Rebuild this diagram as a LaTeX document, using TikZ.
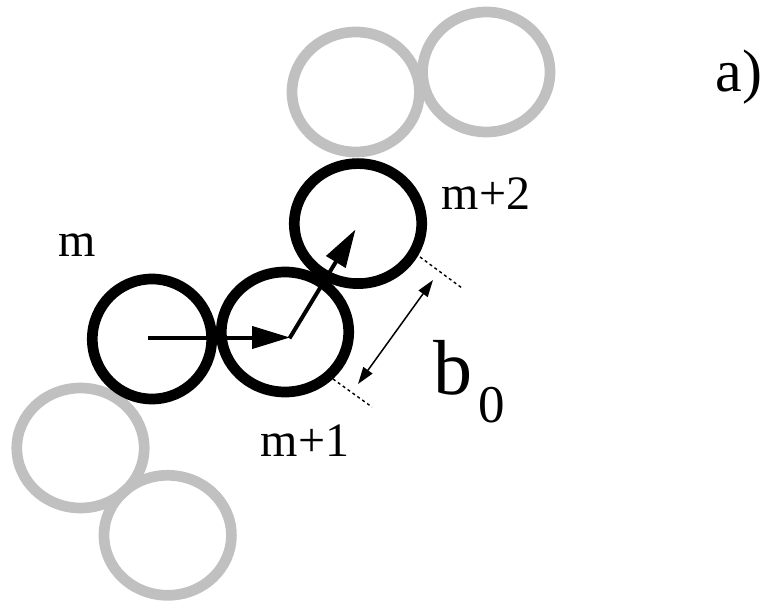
\documentclass[tikz,border=0pt]{standalone}
\usepackage{fontspec}
\setmainfont{Liberation Serif}
\usetikzlibrary{arrows.meta}

\definecolor{ringgray}{RGB}{192,192,192}

\tikzset{
  ring/.style={black, line width=10.7pt},
  ghostring/.style={ringgray, line width=10.7pt},
  bondarrow/.style={-{Triangle[length=38pt, width=22pt]}, line width=4pt},
  gaparrow/.style={{Triangle[length=17pt, width=11pt]}-{Triangle[length=17pt, width=11pt]}, line width=1.5pt},
  guide/.style={line width=1.4pt, dash pattern=on 3pt off 3pt},
  lbl/.style={font=\fontsize{48}{48}\selectfont, inner sep=0pt, anchor=base west}
}

\begin{document}
\begin{tikzpicture}[x=1pt, y=-1pt]
  \useasboundingbox (0,0) rectangle (770,604);
  \def\Rx{63.7}
  \def\Ry{60}

  % --- neighbouring monomers (grey) ---
  \foreach \cx/\cy in {355.7/92, 486.3/72, 80.5/448, 167.7/535.3} {
    \draw[ghostring] (\cx,\cy) ellipse [x radius=\Rx, y radius=\Ry];
  }

  % --- monomers m, m+1, m+2 ---
  \draw[ring] (152,339) ellipse [x radius=59.7, y radius=\Ry];
  \draw[ring] (285,332) ellipse [x radius=\Rx, y radius=\Ry];
  \draw[ring] (358,223.6) ellipse [x radius=\Rx, y radius=\Ry];

  % --- bond vectors ---
  \coordinate (p0) at (148,337.5);
  \coordinate (p1) at (290,337.5);
  \coordinate (p2) at (355.5,229.5);
  \draw[bondarrow] (p0) -- (p1);
  \draw[bondarrow, shorten <=-1pt] (p1) -- (p2);

  % --- bond length b_0 ---
  \coordinate (g1a) at (420,257);
  \coordinate (g1b) at (462,288);
  \coordinate (g2a) at (333,379);
  \coordinate (g2b) at (372,407);
  \draw[guide] (g1a) -- (g1b);
  \draw[guide] (g2a) -- (g2b);
  \coordinate (bt) at (433,280);
  \coordinate (bb) at (358,384);
  \draw[gaparrow] (bt) -- (bb);

  % --- labels ---
  \node[lbl] (lm)  at (58.5,256)  {m};
  \node[lbl] (lm1) at (260.5,456.7) {m+1};
  \node[lbl] (lm2) at (441.5,209)  {m+2};
  \node[inner sep=0pt, anchor=base west] (lb0) at (433,394)
    {\fontsize{78}{78}\selectfont b\hspace{6pt}\raisebox{-28.7pt}{\fontsize{53}{53}\selectfont 0}};
  \node[inner sep=0pt, anchor=base west, font=\fontsize{60}{60}\selectfont] (la) at (715.5,92) {a)};
\end{tikzpicture}
\end{document}
